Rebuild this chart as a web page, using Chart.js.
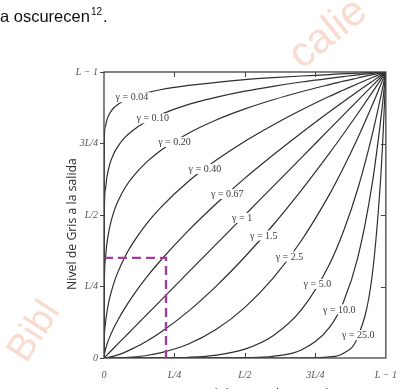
<!DOCTYPE html>
<html>
<head>
<meta charset="utf-8">
<script src="https://cdn.jsdelivr.net/npm/chart.js@4.4.1/dist/chart.umd.min.js"></script>
<style>
html, body { margin: 0; padding: 0; background: #fff; }
#wrap { position: relative; width: 400px; height: 389px; }
</style>
</head>
<body>
<div id="wrap"><canvas id="gamma-chart"></canvas></div>
<script>
// Power-law (gamma) transfer curves, input level r -> output level s.
// Values at a shared set of input levels.
const inputLevels = [0, 0.001, 0.005, 0.01, 0.02, 0.035, 0.05, 0.075, 0.1, 0.15, 0.2, 0.3, 0.4, 0.5, 0.6, 0.7, 0.8, 0.85, 0.9, 0.95, 0.98, 0.99, 1];

const out004 = [0, 0.759, 0.81, 0.832, 0.855, 0.875, 0.887, 0.902, 0.912, 0.927, 0.938, 0.953, 0.964, 0.973, 0.98, 0.986, 0.991, 0.994, 0.996, 0.998, 0.999, 1, 1];
const out010 = [0, 0.501, 0.589, 0.631, 0.676, 0.715, 0.741, 0.772, 0.794, 0.827, 0.851, 0.887, 0.912, 0.933, 0.95, 0.965, 0.978, 0.984, 0.99, 0.995, 0.998, 0.999, 1];
const out020 = [0, 0.251, 0.347, 0.398, 0.457, 0.512, 0.549, 0.596, 0.631, 0.684, 0.725, 0.786, 0.833, 0.871, 0.903, 0.931, 0.956, 0.968, 0.979, 0.99, 0.996, 0.998, 1];
const out040 = [0, 0.063, 0.12, 0.158, 0.209, 0.262, 0.302, 0.355, 0.398, 0.468, 0.525, 0.618, 0.693, 0.758, 0.815, 0.867, 0.915, 0.937, 0.959, 0.98, 0.992, 0.996, 1];
const out067 = [0, 0.0098, 0.029, 0.046, 0.073, 0.106, 0.134, 0.176, 0.214, 0.281, 0.34, 0.446, 0.541, 0.629, 0.71, 0.787, 0.861, 0.897, 0.932, 0.966, 0.987, 0.993, 1];
const out100 = [0, 0.001, 0.005, 0.01, 0.02, 0.035, 0.05, 0.075, 0.1, 0.15, 0.2, 0.3, 0.4, 0.5, 0.6, 0.7, 0.8, 0.85, 0.9, 0.95, 0.98, 0.99, 1];
const out150 = [0, 0, 0.0004, 0.001, 0.0028, 0.0065, 0.011, 0.0205, 0.032, 0.058, 0.089, 0.164, 0.253, 0.354, 0.465, 0.586, 0.716, 0.784, 0.854, 0.926, 0.97, 0.985, 1];
const out250 = [0, 0, 0, 0, 0.0001, 0.0002, 0.0006, 0.0015, 0.0032, 0.0087, 0.018, 0.049, 0.101, 0.177, 0.279, 0.41, 0.572, 0.666, 0.768, 0.88, 0.951, 0.975, 1];
const out500 = [0, 0, 0, 0, 0, 0, 0, 0, 0, 0.0001, 0.0003, 0.0024, 0.0102, 0.031, 0.078, 0.168, 0.328, 0.444, 0.59, 0.774, 0.904, 0.951, 1];
const out1000 = [0, 0, 0, 0, 0, 0, 0, 0, 0, 0, 0, 0, 0.0001, 0.001, 0.006, 0.028, 0.107, 0.197, 0.349, 0.599, 0.817, 0.904, 1];
const out2500 = [0, 0, 0, 0, 0, 0, 0, 0, 0, 0, 0, 0, 0, 0, 0, 0.0001, 0.0038, 0.017, 0.072, 0.277, 0.604, 0.778, 1];

const gammaNames = ['0.04', '0.10', '0.20', '0.40', '0.67', '1', '1.5', '2.5', '5.0', '10.0', '25.0'];
const gammaSeries = [out004, out010, out020, out040, out067, out100, out150, out250, out500, out1000, out2500];

// magenta guide: an input near L/4 mapped through gamma 0.67
const guideX = [0, 0.22, 0.22];
const guideY = [0.35, 0.35, 0];

const axisTickLabels = ['0', 'L/4', 'L/2', '3L/4', 'L \u2212 1'];

// where along each curve its label sits (input level)
const labelAnchors = [0.099, 0.173, 0.25, 0.358, 0.437, 0.49, 0.567, 0.658, 0.757, 0.835, 0.902];

const INK = '#2e2e2e';
const TICK_FONT = { family: '"Liberation Serif", "DejaVu Serif", serif', size: 10, style: 'italic' };

function valueAt(series, x) {
    for (let i = 1; i < inputLevels.length; i++) {
        if (x <= inputLevels[i]) {
            const x0 = inputLevels[i - 1], x1 = inputLevels[i];
            const t = (x - x0) / (x1 - x0);
            return series[i - 1] + t * (series[i] - series[i - 1]);
        }
    }
    return series[series.length - 1];
}

function fitText(ctx, text, family, width) {
    ctx.font = '12px ' + family;
    const size = 12 * width / ctx.measureText(text).width;
    ctx.font = size.toFixed(2) + 'px ' + family;
}

const pagePlugin = {
    id: 'page',
    beforeDraw(chart) {
        const ctx = chart.ctx;
        ctx.save();
        ctx.fillStyle = '#fff';
        ctx.fillRect(0, 0, chart.width, chart.height);

        // watermark fragments outside the figure
        ctx.fillStyle = '#f9dbcf';
        ctx.font = '38px "Liberation Sans", Arial, sans-serif';
        ctx.save();
        ctx.translate(26, 364);
        ctx.rotate(-57 * Math.PI / 180);
        ctx.fillText('Bibl', 0, 0);
        ctx.restore();
        ctx.save();
        ctx.font = '42px "Liberation Sans", Arial, sans-serif';
        ctx.translate(302, 70);
        ctx.rotate(-39 * Math.PI / 180);
        ctx.fillText('calie', 0, 0);
        ctx.restore();

        // running text above the figure
        ctx.fillStyle = '#111';
        ctx.textBaseline = 'alphabetic';
        ctx.font = '16.5px "Liberation Sans", Arial, sans-serif';
        ctx.fillText('a oscurecen', 0, 22);
        const w1 = ctx.measureText('a oscurecen').width;
        ctx.font = '10px "Liberation Sans", Arial, sans-serif';
        ctx.fillText('12', w1 + 1, 15);
        const w2 = ctx.measureText('12').width;
        ctx.font = '16.5px "Liberation Sans", Arial, sans-serif';
        ctx.fillText('.', w1 + w2 + 2, 22);
        ctx.restore();
    },
    afterDatasetsDraw(chart) {
        const ctx = chart.ctx;
        const xs = chart.scales.x, ys = chart.scales.y;
        ctx.save();
        ctx.font = '10px "Liberation Serif", "DejaVu Serif", serif';
        ctx.textAlign = 'center';
        ctx.textBaseline = 'middle';
        gammaSeries.forEach((series, k) => {
            const lx = labelAnchors[k];
            const px = xs.getPixelForValue(lx);
            const py = ys.getPixelForValue(valueAt(series, lx));
            const text = '\u03b3 = ' + gammaNames[k];
            const w = ctx.measureText(text).width;
            ctx.fillStyle = '#fff';
            ctx.fillRect(px - w / 2 - 2, py - 5, w + 4, 10);
            ctx.fillStyle = '#3a3a3a';
            ctx.fillText(text, px, py + 0.5);
        });
        ctx.restore();
    },
    afterDraw(chart) {
        const ctx = chart.ctx;
        const { left, right, top, bottom } = chart.chartArea;
        const xs = chart.scales.x, ys = chart.scales.y;
        ctx.save();
        ctx.strokeStyle = '#444';
        ctx.lineWidth = 1.3;
        ctx.strokeRect(left, top, right - left, bottom - top);
        ctx.lineWidth = 1;
        ctx.beginPath();
        [0.25, 0.5, 0.75].forEach((v) => {
            const px = Math.round(xs.getPixelForValue(v)) + 0.5;
            const py = Math.round(ys.getPixelForValue(v)) + 0.5;
            ctx.moveTo(px, bottom); ctx.lineTo(px, bottom - 5);
            ctx.moveTo(px, top); ctx.lineTo(px, top + 5);
            ctx.moveTo(right, py); ctx.lineTo(right - 5, py);
        });
        ctx.stroke();

        // axis titles
        const family = '"Open Sans", "Liberation Sans", sans-serif';
        ctx.fillStyle = '#2a2a2a';
        ctx.textAlign = 'center';
        ctx.textBaseline = 'middle';
        ctx.save();
        ctx.translate(72, 224);
        ctx.rotate(-Math.PI / 2);
        fitText(ctx, 'Nivel de Gris a la salida', family, 132);
        ctx.fillText('Nivel de Gris a la salida', 0, 0);
        ctx.restore();
        fitText(ctx, 'Nivel de Gris a la entrada', family, 147);
        ctx.fillText('Nivel de Gris a la entrada', 262, 394);
        ctx.restore();
    },
};

const datasets = [{
    data: guideX.map((x, i) => ({ x, y: guideY[i] })),
    borderColor: '#9e3d9c',
    borderWidth: 2.4,
    borderDash: [9, 5],
    pointRadius: 0,
    tension: 0,
}];
gammaSeries.forEach((series) => {
    datasets.push({
        data: inputLevels.map((x, i) => ({ x, y: series[i] })),
        borderColor: INK,
        borderWidth: 1.2,
        pointRadius: 0,
        cubicInterpolationMode: 'monotone',
        fill: false,
    });
});

new Chart(document.getElementById('gamma-chart'), {
    type: 'line',
    data: { datasets },
    options: {
        responsive: true,
        maintainAspectRatio: false,
        animation: false,
        events: [],
        layout: { padding: { left: 62, top: 72, right: 12, bottom: 0 } },
        plugins: { legend: { display: false }, tooltip: { enabled: false } },
        scales: {
            x: {
                type: 'linear', min: 0, max: 1,
                afterFit: (s) => { s.height = 31; },
                ticks: {
                    stepSize: 0.25, padding: 3, color: '#555', font: TICK_FONT,
                    maxRotation: 0, autoSkip: false,
                    callback: (v) => axisTickLabels[Math.round(v * 4)],
                },
                grid: { display: false },
                border: { display: false },
            },
            y: {
                type: 'linear', min: 0, max: 1,
                afterFit: (s) => { s.width = 42; },
                ticks: {
                    stepSize: 0.25, padding: 2, color: '#555', font: TICK_FONT,
                    autoSkip: false,
                    callback: (v) => axisTickLabels[Math.round(v * 4)],
                },
                grid: { display: true, drawOnChartArea: false, drawTicks: true, tickLength: 4, color: '#444' },
                border: { display: false },
            },
        },
    },
    plugins: [pagePlugin],
});
</script>
</body>
</html>
